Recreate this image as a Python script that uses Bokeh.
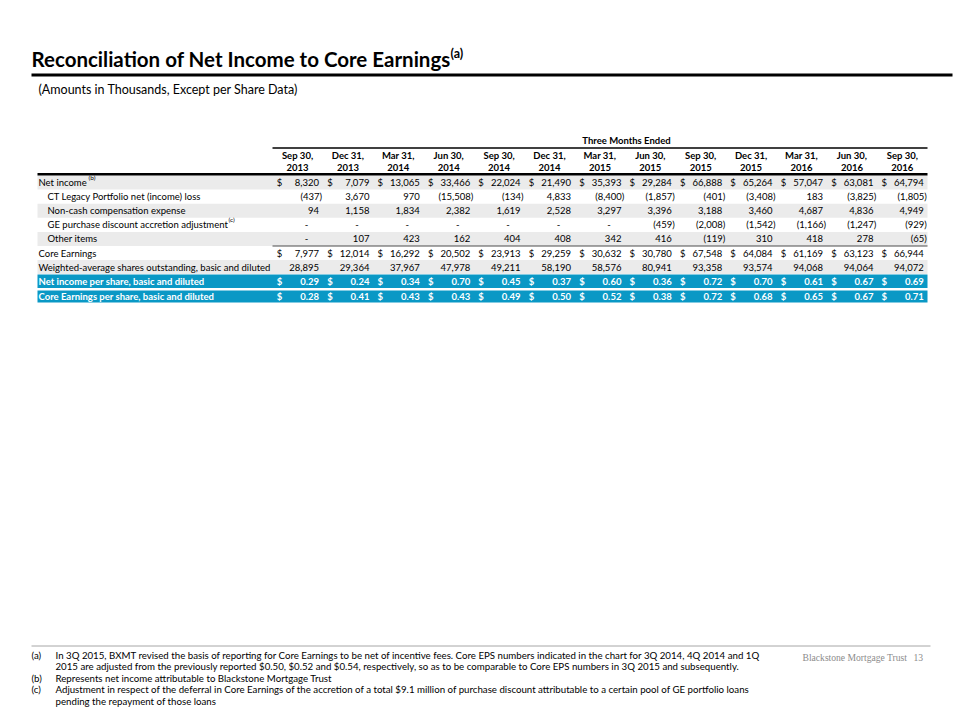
from bokeh.plotting import figure
from bokeh.models import Range1d, ColumnDataSource
from bokeh.embed import file_html
from bokeh.resources import INLINE
from bokeh.core.properties import value

# ---------------- data ----------------
period_month = ["Sep 30,", "Dec 31,", "Mar 31,", "Jun 30,", "Sep 30,", "Dec 31,", "Mar 31,",
                "Jun 30,", "Sep 30,", "Dec 31,", "Mar 31,", "Jun 30,", "Sep 30,"]
period_year = ["2013", "2013", "2014", "2014", "2014", "2014", "2015",
               "2015", "2015", "2015", "2016", "2016", "2016"]

row_labels = ["Net income", "CT Legacy Portfolio net (income) loss", "Non-cash compensation expense",
              "GE purchase discount accretion adjustment", "Other items", "Core Earnings",
              "Weighted-average shares outstanding, basic and diluted",
              "Net income per share, basic and diluted", "Core Earnings per share, basic and diluted"]
row_indent = [False, True, True, True, True, False, False, False, False]
row_dollar = [True, False, False, False, False, True, False, True, True]

net_income = [8320, 7079, 13065, 33466, 22024, 21490, 35393, 29284, 66888, 65264, 57047, 63081, 64794]
ct_legacy = [-437, 3670, 970, -15508, -134, 4833, -8400, -1857, -401, -3408, 183, -3825, -1805]
non_cash_comp = [94, 1158, 1834, 2382, 1619, 2528, 3297, 3396, 3188, 3460, 4687, 4836, 4949]
ge_adjustment = [0, 0, 0, 0, 0, 0, 0, -459, -2008, -1542, -1166, -1247, -929]
other_items = [0, 107, 423, 162, 404, 408, 342, 416, -119, 310, 418, 278, -65]
core_earnings = [7977, 12014, 16292, 20502, 23913, 29259, 30632, 30780, 67548, 64084, 61169, 63123, 66944]
shares = [28895, 29364, 37967, 47978, 49211, 58190, 58576, 80941, 93358, 93574, 94068, 94064, 94072]
ni_per_share = [0.29, 0.24, 0.34, 0.70, 0.45, 0.37, 0.60, 0.36, 0.72, 0.70, 0.61, 0.67, 0.69]
core_eps = [0.28, 0.41, 0.43, 0.43, 0.49, 0.50, 0.52, 0.38, 0.72, 0.68, 0.65, 0.67, 0.71]

rows = [net_income, ct_legacy, non_cash_comp, ge_adjustment, other_items,
        core_earnings, shares, ni_per_share, core_eps]

footnotes = [
    ("(a)", ["In 3Q 2015, BXMT revised the basis of reporting for Core Earnings to be net of incentive fees. Core EPS numbers indicated in the chart for 3Q 2014, 4Q 2014 and 1Q",
             "2015 are adjusted from the previously reported $0.50, $0.52 and $0.54, respectively, so as to be comparable to Core EPS numbers in 3Q 2015 and subsequently."]),
    ("(b)", ["Represents net income attributable to Blackstone Mortgage Trust"]),
    ("(c)", ["Adjustment in respect of the deferral in Core Earnings of the accretion of a total $9.1 million of purchase discount attributable to a certain pool of GE portfolio loans",
             "pending the repayment of those loans"]),
]

# ---------------- styles ----------------
FONT = "Lato"
SERIF = "Liberation Serif"
BLUE = "#0a98c5"
GRAY = "#ebebeb"
W, H = 956, 716
TS = "9.5px"

p = figure(width=W, height=H, x_range=Range1d(0, W), y_range=Range1d(H, 0),
           output_backend="svg", toolbar_location=None, min_border=0,
           x_axis_location=None, y_axis_location=None)
p.grid.visible = False
p.outline_line_color = None
p.background_fill_color = "white"


def txt(x, y, s, size, color="black", bold=False, align="left", baseline="middle", font=FONT):
    src = ColumnDataSource(dict(x=list(x), y=list(y), text=list(s)))
    p.text(x="x", y="y", text="text", source=src, text_font=value(font), text_font_size=size,
           text_color=color, text_font_style="bold" if bold else "normal",
           text_align=align, text_baseline=baseline)


def hline(x0, x1, y, color="black", width=1.0):
    p.segment(x0=[x0], x1=[x1], y0=[y], y1=[y], line_color=color, line_width=width)


# ---------------- title ----------------
txt([31], [58], ["Reconciliation of Net Income to Core Earnings"], "20.5px", bold=True)
txt([450], [53], ["(a)"], "12.5px", bold=True)
hline(31, 952, 74.5, width=3)
txt([38], [89], ["(Amounts in Thousands, Except per Share Data)"], "12.5px")

# ---------------- table geometry ----------------
ncol = len(period_month)
col_c = [297 + 50.4 * j for j in range(ncol)]
tbl_left, tbl_right = 37, 927
row_y = [182 + 14.1 * i for i in range(8)] + [296]
row_h = [14] * 7 + [13.5, 12]

# bands
gray_rows = [0, 2, 4, 6]
p.quad(left=[tbl_left] * len(gray_rows), right=[tbl_right] * len(gray_rows),
       top=[row_y[i] - 7 for i in gray_rows], bottom=[row_y[i] + 7 for i in gray_rows],
       fill_color=GRAY, line_color=None)
blue_rows = [7, 8]
p.quad(left=[tbl_left] * 2, right=[tbl_right] * 2,
       top=[row_y[i] - row_h[i] / 2 for i in blue_rows],
       bottom=[row_y[i] + row_h[i] / 2 for i in blue_rows],
       fill_color=BLUE, line_color=None)

# header
txt([626], [140], ["Three Months Ended"], TS, bold=True, align="center")
hline(272, tbl_right, 147.5, width=1.5)
txt(col_c, [154.5] * ncol, period_month, TS, bold=True, align="center")
txt(col_c, [166.5] * ncol, period_year, TS, bold=True, align="center")
hline(tbl_left, tbl_right, 173.8, width=2.5)
hline(272, tbl_right, 245.5, color="#4d4d4d", width=1.2)

# labels
for i, lab in enumerate(row_labels):
    blue = i in blue_rows
    txt([47 if row_indent[i] else 38], [row_y[i]], [lab], TS,
        color="white" if blue else "black", bold=blue)
txt([88], [177], ["(b)"], "6.5px")
txt([228], [219], ["(c)"], "6.5px")


def fmt(v, eps):
    if eps:
        return f"{v:.2f}"
    if v == 0:
        return "-"
    s = f"{abs(v):,}"
    return f"({s})" if v < 0 else s


for i, vals in enumerate(rows):
    eps = i >= 7
    blue = i in blue_rows
    color = "white" if blue else "black"
    xs, ts = [], []
    for j, v in enumerate(vals):
        t = fmt(v, eps)
        if t == "-":
            continue
        xs.append(col_c[j] + (24.5 if t.startswith("(") else 21.5))
        ts.append(t)
    txt(xs, [row_y[i]] * len(xs), ts, TS, color=color, bold=blue, align="right")
    dash_x = [col_c[j] + 9 for j, v in enumerate(vals) if fmt(v, eps) == "-"]
    if dash_x:
        txt(dash_x, [row_y[i]] * len(dash_x), ["-"] * len(dash_x), TS, color=color, align="center")
    if row_dollar[i]:
        txt([c - 18 for c in col_c], [row_y[i]] * ncol, ["$"] * ncol, TS,
            color=color, bold=blue, align="center")

# ---------------- footnotes ----------------
hline(31, 930, 645.5, color="#a6a6a6", width=1)
fy = 654
for mark, lines in footnotes:
    txt([31], [fy], [mark], "9.7px")
    for ln in lines:
        txt([55], [fy], [ln], "9.7px")
        fy += 11.6

txt([802], [657], ["Blackstone Mortgage Trust"], "9.6px", color="#8c8c8c", font=SERIF)
txt([913], [657], ["13"], "9.6px", color="#8c8c8c", font=SERIF)

open("out.html", "w").write(file_html(p, INLINE))
